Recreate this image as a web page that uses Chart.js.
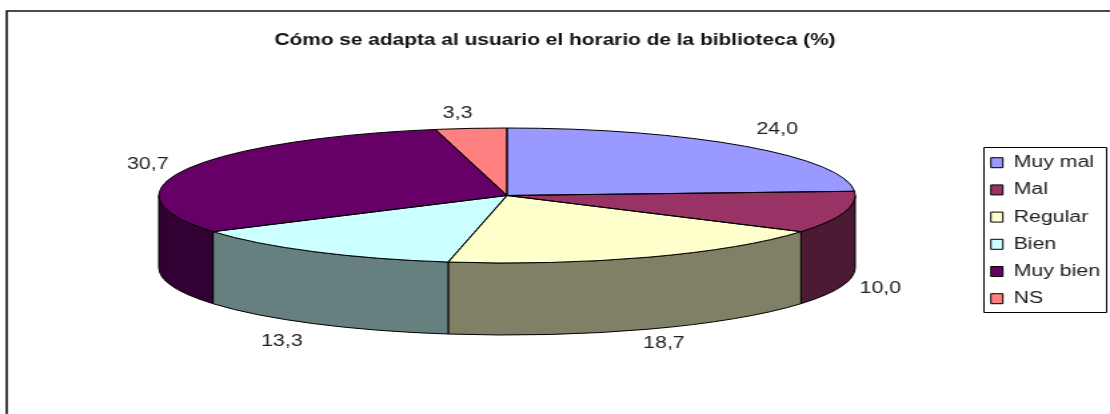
<!DOCTYPE html>
<html lang="es">
<head>
<meta charset="utf-8">
<title>Horario de la biblioteca</title>
<style>
html,body{margin:0;padding:0;background:#fff;overflow:hidden}
canvas{display:block}
</style>
<script src="https://cdn.jsdelivr.net/npm/chart.js@4/dist/chart.umd.min.js"></script>
</head>
<body>
<canvas id="c" width="832" height="414"></canvas>
<script>
const titleText = "Cómo se adapta al usuario el horario de la biblioteca (%)";
const categories = ["Muy mal", "Mal", "Regular", "Bien", "Muy bien", "NS"];
const values = [24.0, 10.0, 18.7, 13.3, 30.7, 3.3];
const topColors = ["#9999ff", "#993366", "#ffffcc", "#ccffff", "#660066", "#ff8080"];
const wallColors = ["#4d4d80", "#4d1a33", "#808066", "#668080", "#330033", "#804040"];

// Horizontal stretch of the picture: the chart is drawn narrow and shown wide.
const STRETCH = 1110 / 832;
const pie = {cx: 380, cy: 195.5, rx: 261, ry: 67.5, depth: 72};
const labelGap = {x: 29, y: 15};
const labelNudge = [[4, -6], [-1, 1], [0, 1], [-8, 5], [-2, 1], [-7, 0]];
const legendFrame = {left: 737, top: 147, right: 829, bottom: 312};

const pie3d = {
  id: "pie3d",
  afterLayout(chart) {
    const l = chart.legend;
    l.left = 731.5; l.right = 832; l.top = 143.5; l.bottom = 414;
  },
  beforeDraw(chart) {
    const ctx = chart.ctx;
    ctx.save();
    ctx.strokeStyle = "#111";
    ctx.lineWidth = 1.6;
    ctx.beginPath();
    ctx.moveTo(5, 414);
    ctx.lineTo(5, 11);
    ctx.lineTo(832, 11);
    ctx.stroke();
    ctx.fillStyle = "#fff";
    ctx.lineWidth = 1;
    ctx.strokeStyle = "#000";
    ctx.beginPath();
    ctx.rect(legendFrame.left + .5, legendFrame.top + .5,
             legendFrame.right - legendFrame.left, legendFrame.bottom - legendFrame.top);
    ctx.fill();
    ctx.stroke();
    ctx.restore();
  },
  beforeDatasetsDraw(chart) {
    const ctx = chart.ctx, arcs = chart.getDatasetMeta(0).data;
    ctx.save();
    ctx.strokeStyle = "#000";
    ctx.lineWidth = 1;
    arcs.forEach((a, i) => {
      const s = Math.max(a.startAngle, 0);
      const e = Math.min(a.endAngle, Math.PI);
      if (e <= s) return;
      ctx.beginPath();
      ctx.ellipse(pie.cx, pie.cy, pie.rx, pie.ry, 0, s, e);
      ctx.ellipse(pie.cx, pie.cy + pie.depth, pie.rx, pie.ry, 0, e, s, true);
      ctx.closePath();
      ctx.fillStyle = wallColors[i];
      ctx.fill();
      ctx.stroke();
    });
    ctx.restore();
    const a0 = arcs[0];
    ctx.save();
    ctx.translate(pie.cx, pie.cy);
    ctx.scale(pie.rx / a0.outerRadius, pie.ry / a0.outerRadius);
    ctx.translate(-a0.x, -a0.y);
  },
  afterDatasetsDraw(chart) {
    const ctx = chart.ctx, arcs = chart.getDatasetMeta(0).data;
    ctx.restore();
    ctx.save();
    ctx.strokeStyle = "#000";
    ctx.lineWidth = 1;
    arcs.forEach(a => {
      ctx.beginPath();
      ctx.ellipse(pie.cx, pie.cy, pie.rx, pie.ry, 0, a.startAngle, a.endAngle);
      ctx.lineTo(pie.cx, pie.cy);
      ctx.closePath();
      ctx.stroke();
    });
    ctx.fillStyle = "#222";
    ctx.font = "16px 'Liberation Sans', Arial, sans-serif";
    ctx.textAlign = "center";
    ctx.textBaseline = "middle";
    arcs.forEach((a, i) => {
      const m = (a.startAngle + a.endAngle) / 2;
      const sin = Math.sin(m), cos = Math.cos(m);
      const x = pie.cx + (pie.rx + labelGap.x) * cos + labelNudge[i][0];
      const y = pie.cy + (pie.ry + labelGap.y) * sin + (sin > 0 ? pie.depth : 0) + labelNudge[i][1];
      ctx.fillText(values[i].toFixed(1).replace(".", ","), x, y);
    });
    ctx.restore();
  }
};

const canvas = document.getElementById("c");
new Chart(canvas, {
  type: "pie",
  plugins: [pie3d],
  data: {
    labels: categories,
    datasets: [{data: values, backgroundColor: topColors, borderWidth: 0}]
  },
  options: {
    responsive: false,
    animation: false,
    devicePixelRatio: 1,
    plugins: {
      tooltip: {enabled: false},
      title: {
        display: true,
        text: titleText,
        color: "#111",
        font: {family: "'Liberation Sans', Arial, sans-serif", size: 15.65, weight: "bold"},
        padding: {top: 31, bottom: 10}
      },
      legend: {
        position: "right",
        align: "start",
        labels: {
          boxWidth: 9,
          boxHeight: 10,
          padding: 11.2,
          color: "#222",
          font: {family: "'Liberation Sans', Arial, sans-serif", size: 16},
          generateLabels(chart) {
            return Chart.overrides.pie.plugins.legend.labels.generateLabels(chart)
              .map(item => Object.assign(item, {strokeStyle: "#000", lineWidth: 1}));
          }
        }
      }
    }
  }
});
canvas.style.width = Math.round(832 * STRETCH) + "px";
canvas.style.height = "414px";
</script>
</body>
</html>
